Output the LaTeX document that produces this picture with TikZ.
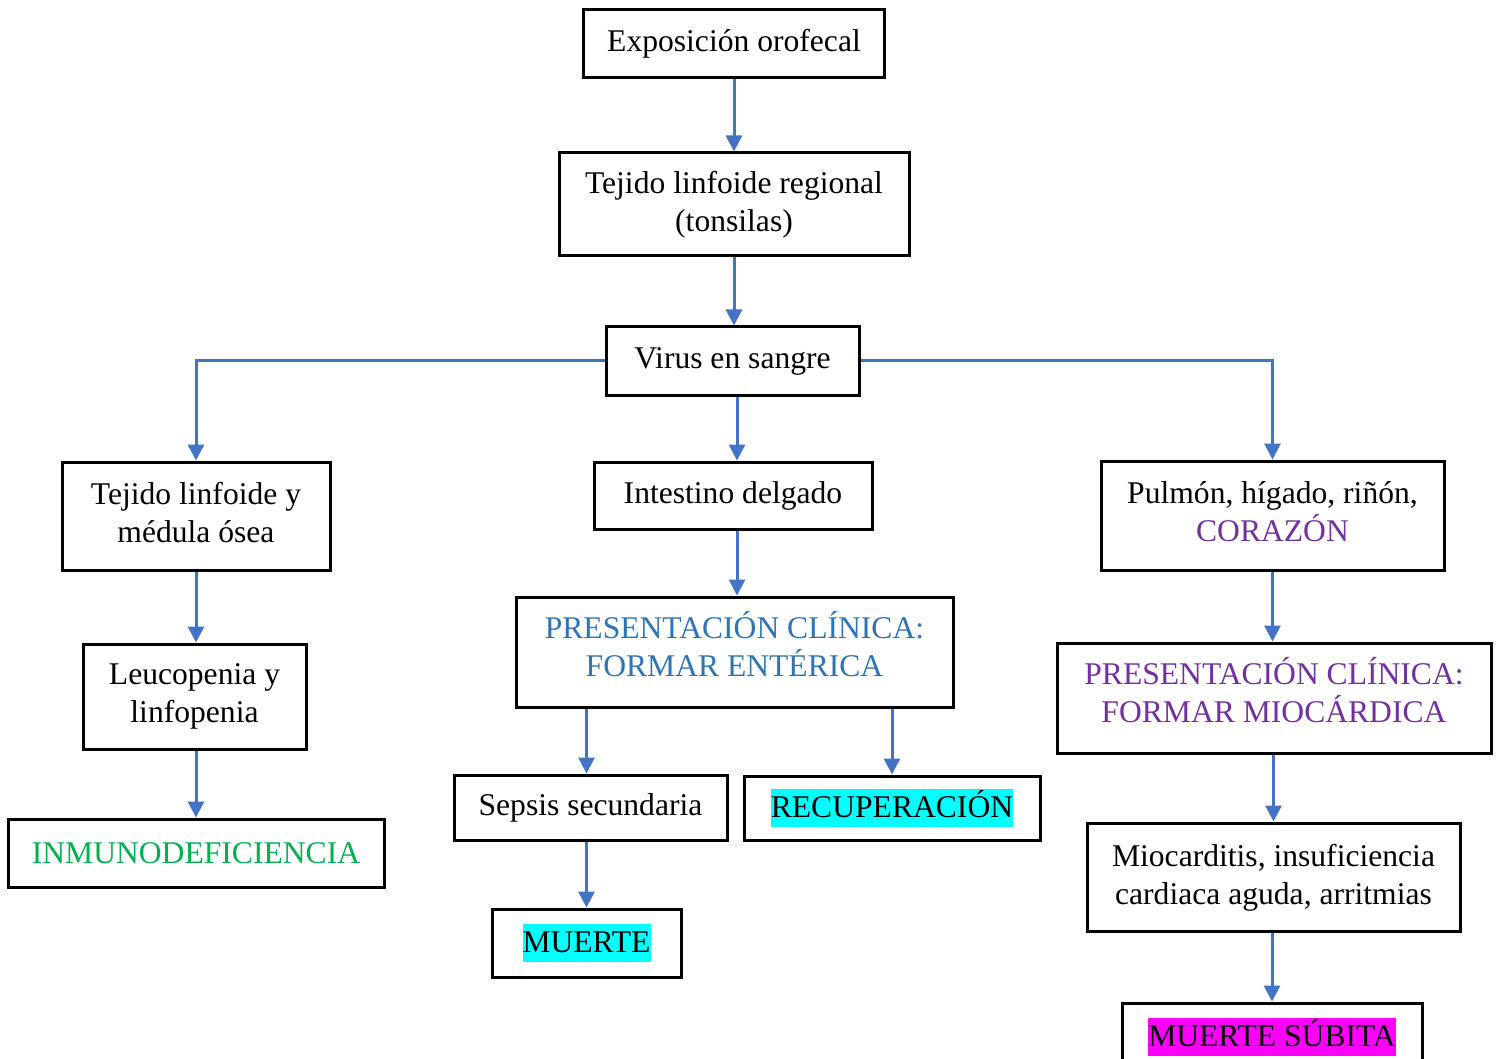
\documentclass[tikz,border=0pt]{standalone}
\usepackage{fontspec}
\setmainfont{Liberation Serif}
\usetikzlibrary{arrows.meta}
\definecolor{arrowblue}{HTML}{4472C4}
\definecolor{entblue}{HTML}{2E74B5}
\definecolor{miopurple}{HTML}{7030A0}
\definecolor{immgreen}{HTML}{00B050}
\definecolor{hlcyan}{HTML}{00FFFF}
\definecolor{hlmagenta}{HTML}{FF00FF}
\newcommand{\hl}[2]{{\setlength{\fboxsep}{0pt}\colorbox{#1}{\rule[-4.6pt]{0pt}{18.6pt}#2}}}
\begin{document}
\begin{tikzpicture}[x=0.5pt,y=-0.5pt,
  box/.style={draw, line width=1.5pt, align=center, inner sep=0pt,
    font=\fontsize{15.8}{19}\selectfont},
  lift/.style={text depth=#1},
  link/.style={draw=arrowblue, line width=1.5pt,
    -{Triangle[width=8pt,length=8pt]}}]
\useasboundingbox (0,0) rectangle (1500,1059);
\clip (0,0) rectangle (1500,1059);

% central chain
\node[box, minimum width=150.5pt, minimum height=34pt] (expo) at (734,44) {Exposición orofecal};
\node[box, minimum width=175pt, minimum height=51.5pt] (tonsil) at (734,204.5) {Tejido linfoide regional\\(tonsilas)};
\node[box, minimum width=126.5pt, minimum height=34pt] (virus) at (732.5,361) {Virus en sangre};

% second level
\node[box, lift=4pt, minimum width=134pt, minimum height=54pt] (tejlin) at (196,516) {Tejido linfoide y\\médula ósea};
\node[box, minimum width=139pt, minimum height=33.5pt] (intest) at (733,495.5) {Intestino delgado};
\node[box, lift=4pt, minimum width=171.5pt, minimum height=54.5pt] (pulmon) at (1272.5,515.5) {Pulmón, hígado, riñón,\\\textcolor{miopurple}{CORAZÓN}};

% left branch
\node[box, minimum width=111.5pt, minimum height=52.5pt] (leuco) at (194.5,696.5) {Leucopenia y\\linfopenia};
\node[box, minimum width=188pt, minimum height=34pt, text=immgreen] (inmuno) at (196,853) {INMUNODEFICIENCIA};

% middle branch
\node[box, lift=8pt, minimum width=218.5pt, minimum height=55pt, text=entblue] (entpres) at (734.5,652) {PRESENTACIÓN CLÍNICA:\\FORMAR ENTÉRICA};
\node[box, minimum width=136.5pt, minimum height=32.5pt] (sepsis) at (590.5,807.5) {Sepsis secundaria};
\node[box, minimum width=148pt, minimum height=32pt] (recup) at (892,808) {\hl{hlcyan}{RECUPERACIÓN}};
\node[box, minimum width=94.5pt, minimum height=34pt] (muerte) at (586.5,943) {\hl{hlcyan}{MUERTE}};

% right branch
\node[box, lift=8pt, minimum width=217pt, minimum height=55pt, text=miopurple] (miopres) at (1274,698) {PRESENTACIÓN CLÍNICA:\\FORMAR MIOCÁRDICA};
\node[box, lift=3pt, minimum width=186.5pt, minimum height=54pt] (miocard) at (1273.5,877) {Miocarditis, insuficiencia\\cardiaca aguda, arritmias};
\node[box, minimum width=150pt, minimum height=34pt] (subita) at (1272,1037) {\hl{hlmagenta}{MUERTE SÚBITA}};

% connectors
\draw[link] (expo) -- (tonsil);
\draw[link] (tonsil.south) -- (tonsil.south |- virus.north);
\draw[link] (virus.south -| intest.north) ++(4,0) coordinate (vi) -- (vi |- intest.north);
\draw[link] (virus.west) -| (tejlin.north);
\draw[link] (virus.east) -| (pulmon.north);
\draw[link] (tejlin) -- (leuco.north -| tejlin.south);
\draw[link] (leuco.south -| inmuno.north) -- (inmuno.north);
\draw[link] (intest.south) ++(4,0) coordinate (ie) -- (ie |- entpres.north);
\draw[link] (muerte.north |- entpres.south) -- (muerte.north |- sepsis.north);
\draw[link] (recup.north |- entpres.south) -- (recup.north);
\draw[link] (muerte.north |- sepsis.south) -- (muerte.north);
\draw[link] (pulmon.south) -- (miopres.north -| pulmon.south);
\draw[link] (miopres.south -| miocard.north) -- (miocard.north);
\draw[link] (miocard.south -| subita.north) -- (subita.north);
\end{tikzpicture}
\end{document}
